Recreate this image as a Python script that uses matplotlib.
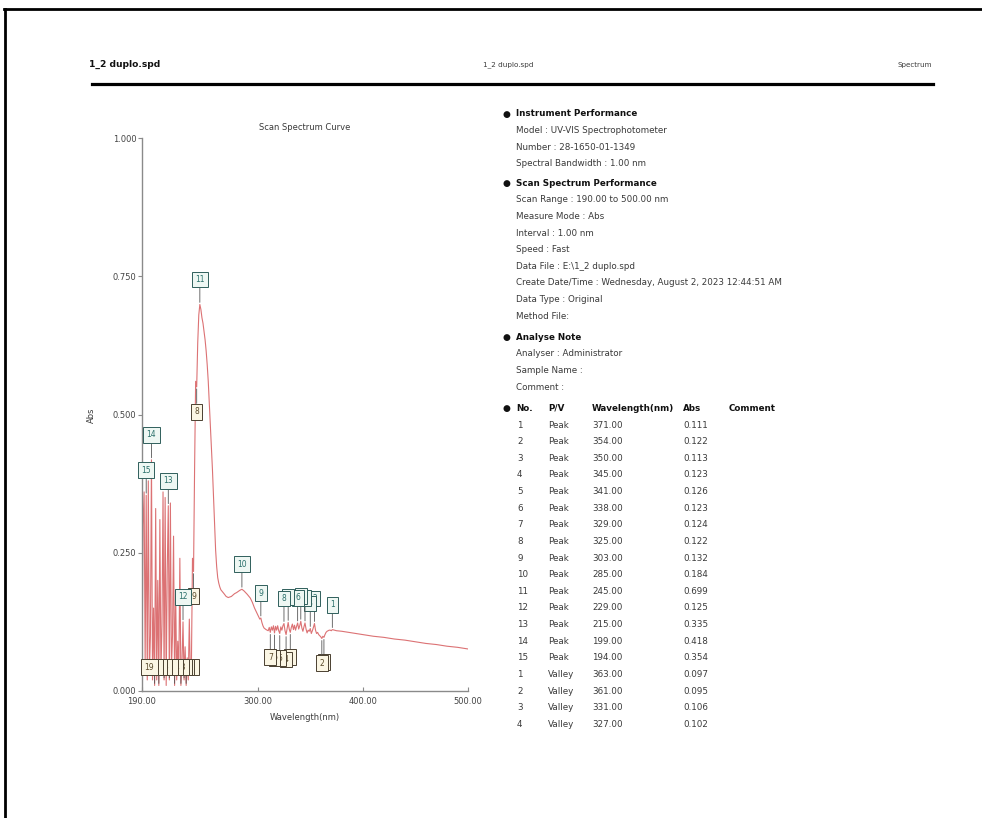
import matplotlib
matplotlib.use("Agg")
import matplotlib.pyplot as plt
from matplotlib.lines import Line2D

plt.rcParams["font.family"] = ["DejaVu Sans"]

# ── data: scan curve (1 nm steps where the curve is busy, sparser on the tail) ──
wl_nm = (list(range(190, 266))
         + [268, 270, 272, 275, 278, 280, 283, 285, 287, 290, 293, 295, 297, 299,
            301, 302, 303, 304, 305, 306, 308, 310]
         + list(range(311, 372))
         + [375, 380, 390, 400, 410, 420, 430, 440, 450, 460, 470, 480, 490, 500])

absorb = [
    0.02, 0.30, 0.36, 0.05, 0.354, 0.02, 0.38, 0.03, 0.10, 0.418,     # 190-199
    0.02, 0.15, 0.01, 0.33, 0.02, 0.20, 0.01, 0.31, 0.03, 0.12,       # 200-209
    0.36, 0.02, 0.35, 0.01, 0.22, 0.335, 0.02, 0.34, 0.04, 0.10,      # 210-219
    0.28, 0.01, 0.18, 0.02, 0.09, 0.03, 0.24, 0.01, 0.05, 0.125,      # 220-229
    0.02, 0.08, 0.01, 0.06, 0.02, 0.13, 0.03, 0.05, 0.24, 0.216,      # 230-239
    0.40, 0.56, 0.55, 0.63, 0.68, 0.699,                              # 240-245
    0.69, 0.675, 0.665, 0.65, 0.635, 0.615, 0.59, 0.56, 0.52, 0.48,   # 246-255
    0.44, 0.40, 0.35, 0.30, 0.255, 0.225, 0.205, 0.195, 0.188, 0.183, # 256-265
    0.176, 0.171, 0.169, 0.171, 0.176, 0.178, 0.182, 0.184, 0.181, 0.175,
    0.168, 0.160, 0.150, 0.142, 0.134, 0.130, 0.132, 0.124, 0.118, 0.114,
    0.111, 0.109,                                                     # 268-310
    0.115, 0.106, 0.116, 0.110, 0.118, 0.105, 0.117, 0.110, 0.118, 0.109,  # 311-320
    0.104, 0.116, 0.110, 0.118, 0.122, 0.109, 0.102, 0.113, 0.124, 0.112,  # 321-330
    0.106, 0.115, 0.121, 0.111, 0.119, 0.110, 0.117, 0.123, 0.112, 0.118,  # 331-340
    0.126, 0.114, 0.108, 0.116, 0.123, 0.112, 0.105, 0.110, 0.108, 0.113,  # 341-350
    0.104, 0.109, 0.115, 0.122, 0.110, 0.104, 0.106, 0.102, 0.100, 0.098,  # 351-360
    0.095, 0.099, 0.097, 0.102, 0.106, 0.108, 0.109, 0.110, 0.110, 0.109, 0.111,  # 361-371
    0.109, 0.108, 0.105, 0.102, 0.099, 0.097, 0.094, 0.092, 0.089, 0.086,
    0.084, 0.081, 0.079, 0.076,                                       # tail
]

# ── data: picked peaks / valleys ──
peak_no = list(range(1, 16))
peak_wl = [371, 354, 350, 345, 341, 338, 329, 325, 303, 285, 245, 229, 215, 199, 194]
peak_abs = [0.111, 0.122, 0.113, 0.123, 0.126, 0.123, 0.124, 0.122, 0.132, 0.184,
            0.699, 0.125, 0.335, 0.418, 0.354]

valley_no = list(range(1, 20))
valley_wl = [363, 361, 331, 327, 321, 316, 312, 242, 239, 236, 232, 230, 227, 221,
             216, 211, 206, 202, 197]
valley_abs = [0.097, 0.095, 0.106, 0.102, 0.104, 0.105, 0.106, 0.55, 0.216, 0.03,
              0.01, 0.02, 0.01, 0.01, 0.02, 0.02, 0.01, 0.01, 0.03]

table_rows = 4  # valleys shown in the printed table

# ── data: report text ──
instrument = ["Model : UV-VIS Spectrophotometer", "Number : 28-1650-01-1349",
              "Spectral Bandwidth : 1.00 nm"]
scan_perf = ["Scan Range : 190.00 to 500.00 nm", "Measure Mode : Abs",
             "Interval : 1.00 nm", "Speed : Fast", "Data File : E:\\1_2 duplo.spd",
             "Create Date/Time : Wednesday, August 2, 2023 12:44:51 AM",
             "Data Type : Original", "Method File:"]
analyse = ["Analyser : Administrator", "Sample Name :", "Comment :"]

W, H = 982, 818
fig = plt.figure(figsize=(W / 100, H / 100), dpi=100)


def fx(x):
    return x / W


def fy(y):
    return 1 - y / H


def txt(x, y, s, **kw):
    kw.setdefault("fontsize", 6.35)
    kw.setdefault("color", "#3a3a3a")
    fig.text(fx(x), fy(y), s, va="center", **kw)


# ── page frame and header ──
fig.add_artist(Line2D([fx(4), fx(982)], [fy(9), fy(9)], color="black", lw=2))
fig.add_artist(Line2D([fx(5), fx(5)], [fy(9), fy(818)], color="black", lw=2))
txt(89, 64, "1_2 duplo.spd", fontsize=6.6, fontweight="bold", color="#111111")
txt(508, 65, "1_2 duplo.spd", fontsize=5.2, ha="center")
txt(932, 65, "Spectrum", fontsize=5.1, ha="right")
fig.add_artist(Line2D([fx(92), fx(933)], [fy(84), fy(84)], color="black", lw=2.3))

# ── spectrum axes ──
ax = fig.add_axes([fx(142), fy(691), fx(468) - fx(142), fy(138) - fy(691)])
ax.plot(wl_nm, absorb, color="#dc7274", lw=0.8, zorder=2)
ax.set_xlim(190, 500)
ax.set_ylim(0, 1.0)
for s in ["top", "right"]:
    ax.spines[s].set_visible(False)
for s in ["left", "bottom"]:
    ax.spines[s].set_color("#8a8a8a")
    ax.spines[s].set_linewidth(1.0)
ax.set_yticks([0, 0.25, 0.5, 0.75, 1.0])
ax.set_yticklabels(["0.000", "0.250", "0.500", "0.750", "1.000"])
ax.set_xticks([190, 300, 400, 500])
ax.set_xticklabels(["190.00", "300.00", "400.00", "500.00"])
ax.tick_params(axis="y", direction="out", length=3, width=0.8, color="#8a8a8a",
               labelsize=6, labelcolor="#444444", pad=1)
ax.tick_params(axis="x", direction="in", length=3, width=0.8, color="#8a8a8a",
               labelsize=6, labelcolor="#444444", pad=4)
txt(305, 127, "Scan Spectrum Curve", ha="center", fontsize=6)
txt(91, 415, "Abs", ha="center", rotation=90, fontsize=6)
txt(305, 718, "Wavelength(nm)", ha="center", fontsize=6)

# peak labels sit above the peak, valley labels below (kept inside the axes)
for n, x, y in zip(peak_no, peak_wl, peak_abs):
    ax.annotate(str(n), xy=(x, y), xytext=(0, 18), textcoords="offset points",
                ha="center", va="center", fontsize=5.5, color="#2a6f6a", zorder=5,
                bbox=dict(boxstyle="square,pad=0.45", fc="#eef7f3", ec="#2f5f5c", lw=0.7),
                arrowprops=dict(arrowstyle="-", color="#555555", lw=0.6,
                                shrinkA=0, shrinkB=1.5))
for n, x, y in zip(valley_no, valley_wl, valley_abs):
    yb = max(y - 0.045, 0.043)
    ax.annotate(str(n), xy=(x, y), xytext=(x, yb), textcoords="data",
                ha="center", va="center", fontsize=5.5, color="#5a4a2a", zorder=4,
                bbox=dict(boxstyle="square,pad=0.45", fc="#fbf6e4", ec="#4a4030", lw=0.7),
                arrowprops=dict(arrowstyle="-", color="#555555", lw=0.6,
                                shrinkA=0, shrinkB=1.5))

# ── report text on the right ──
bullet_x, text_x = 506, 516


def section(y, title, lines):
    txt(bullet_x, y, "\u25cf", fontsize=6.5, ha="center", color="#111111")
    txt(text_x, y, title, fontweight="bold", color="#111111")
    for i, s in enumerate(lines):
        txt(text_x, y + 16.6 * (i + 1), s)


section(114, "Instrument Performance", instrument)
section(183.3, "Scan Spectrum Performance", scan_perf)
section(337.3, "Analyse Note", analyse)

# peak / valley table
hy = 408.3
txt(bullet_x, hy, "\u25cf", fontsize=6.5, ha="center", color="#111111")
for x, s in [(516, "No."), (548, "P/V"), (592, "Wavelength(nm)"), (683, "Abs"),
             (729, "Comment")]:
    txt(x, hy, s, fontweight="bold", color="#111111")

rows = ([(n, "Peak", w, a) for n, w, a in zip(peak_no, peak_wl, peak_abs)]
        + [(n, "Valley", w, a) for n, w, a in
           zip(valley_no[:table_rows], valley_wl[:table_rows], valley_abs[:table_rows])])
for i, (n, pv, w, a) in enumerate(rows):
    y = 425 + 16.63 * i
    txt(517, y, str(n))
    txt(548, y, pv)
    txt(592, y, f"{w:.2f}")
    txt(683, y, f"{a:.3f}")

fig.savefig("out.png", dpi=100, facecolor="white")
